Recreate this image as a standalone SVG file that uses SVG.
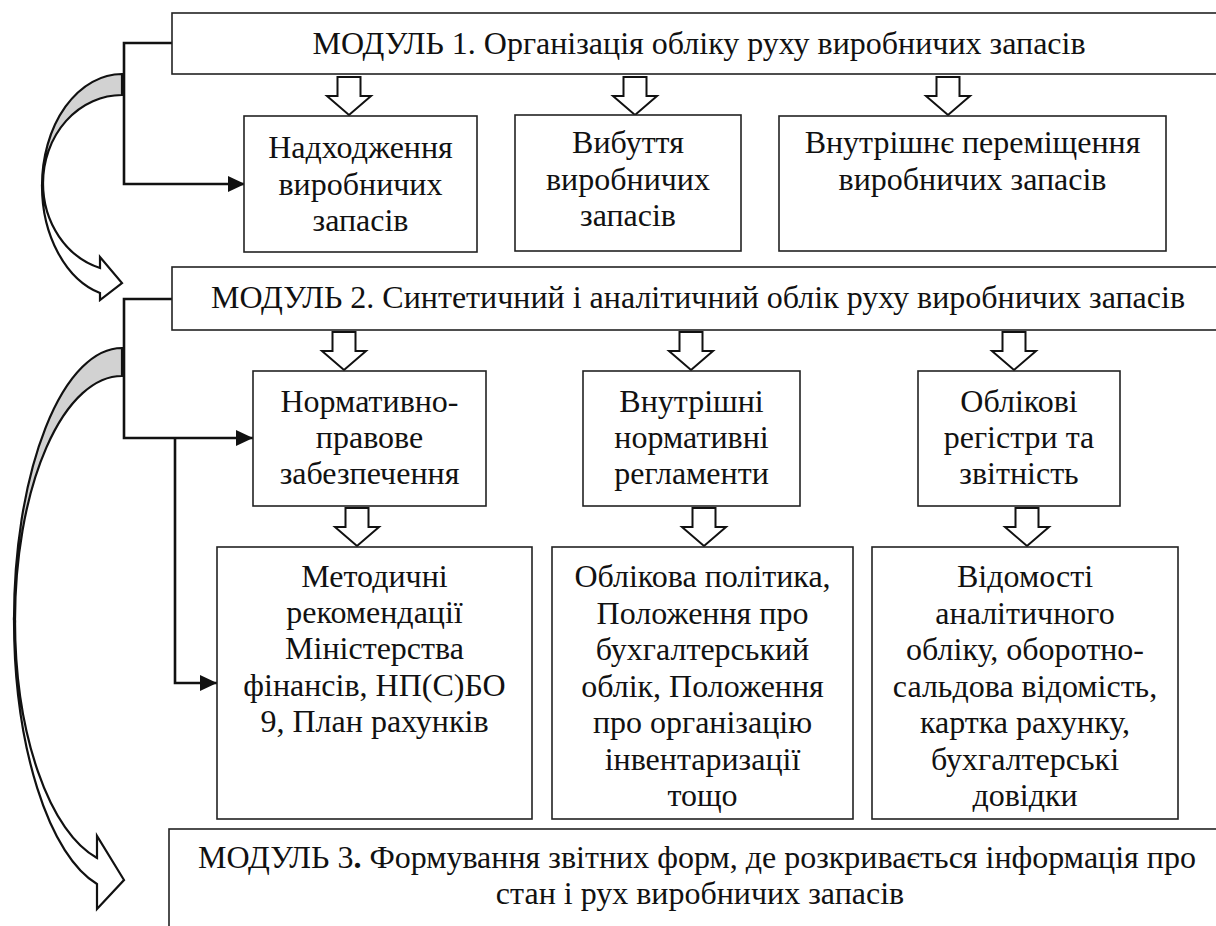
<svg xmlns="http://www.w3.org/2000/svg" width="1216" height="926" viewBox="0 0 1216 926">
<style>
.box{fill:#fff;stroke:#222;stroke-width:1.6}
text{font-family:'Liberation Serif','Times New Roman','DejaVu Serif',serif;font-size:32px;fill:#111;text-anchor:middle}
.conn{fill:none;stroke:#111;stroke-width:2.6}
.blk{fill:#fff;stroke:#111;stroke-width:2}
.curve{stroke:#111;stroke-width:2.2;stroke-linejoin:miter}
</style>
<defs>
<marker id="tri" markerUnits="userSpaceOnUse" markerWidth="17" markerHeight="16" refX="17" refY="8" orient="auto">
<path d="M0,0 L17,8 L0,16 Z" fill="#111"/>
</marker>
<path id="bigArrow" d="M-11.5,0 h23 v19 h10.5 L0,38 L-22,19 h10.5 Z"/>
</defs>
<rect width="1216" height="926" fill="#fff"/>

<g id="connectors">
<path class="conn" d="M172,43 H124 V184 H245" marker-end="url(#tri)"/>
<path class="conn" d="M172,299 H124 V438 H253" marker-end="url(#tri)"/>
<path class="conn" d="M175,438 V683 H217" marker-end="url(#tri)"/>
<g class="blk">
<use href="#bigArrow" x="349" y="77"/>
<use href="#bigArrow" x="635" y="77"/>
<use href="#bigArrow" x="948" y="77"/>
<use href="#bigArrow" x="344" y="332"/>
<use href="#bigArrow" x="691" y="332"/>
<use href="#bigArrow" x="1014" y="332"/>
<use href="#bigArrow" x="357" y="508"/>
<use href="#bigArrow" x="704" y="508"/>
<use href="#bigArrow" x="1027" y="508"/>
</g>
<g id="curved1" class="curve">
<path fill="#d2d2d2" d="M122,74 A80,111.7 0 0 0 42,185.7 L43,183.3 A79,88.25 0 0 1 122,95 Z"/>
<path fill="#fff" d="M42,185.7 A80,111.7 0 0 0 100,293.1 L100,300 L122,283 L100,257 L100,268 A79,88.25 0 0 1 43,183.3 Z"/>
</g>
<g id="curved2" class="curve">
<path fill="#d2d2d2" d="M122,348 A108,271.7 0 0 0 14,619.7 L15,620.4 A107,244.4 0 0 1 122,376 Z"/>
<path fill="#fff" d="M14,619.7 A108,271.7 0 0 0 97,884 L97,909 L124,880 L97,836 L97,858 A107,244.4 0 0 1 15,620.4 Z"/>
</g>
</g>

<g id="module1" font-family="Liberation Serif, serif">
<rect class="box" x="172" y="13" width="1060" height="61"/>
<text x="699" y="54">МОДУЛЬ 1. Організація обліку руху виробничих запасів</text>
</g>
<g id="n-nadkhodzhennia">
<rect class="box" x="244" y="116" width="233" height="136"/>
<text x="360.5" y="158">Надходження</text>
<text x="360.5" y="194.5">виробничих</text>
<text x="360.5" y="231">запасів</text>
</g>
<g id="n-vybuttia">
<rect class="box" x="515" y="115" width="226" height="136"/>
<text x="628" y="153">Вибуття</text>
<text x="628" y="189.5">виробничих</text>
<text x="628" y="226">запасів</text>
</g>
<g id="n-vnutr-peremishchennia">
<rect class="box" x="779" y="116" width="387" height="135"/>
<text x="972.5" y="153">Внутрішнє переміщення</text>
<text x="972.5" y="189.5">виробничих запасів</text>
</g>

<g id="module2">
<rect class="box" x="172" y="267" width="1060" height="63"/>
<text x="698" y="308">МОДУЛЬ 2. Синтетичний і аналітичний облік руху виробничих запасів</text>
</g>
<g id="n-normatyvno">
<rect class="box" x="253" y="371" width="233" height="135"/>
<text x="369.5" y="412">Нормативно-</text>
<text x="369.5" y="448">правове</text>
<text x="369.5" y="484">забезпечення</text>
</g>
<g id="n-vnutrishni">
<rect class="box" x="583" y="371" width="217" height="135"/>
<text x="691.5" y="412">Внутрішні</text>
<text x="691.5" y="448">нормативні</text>
<text x="691.5" y="484">регламенти</text>
</g>
<g id="n-oblikovi">
<rect class="box" x="918" y="371" width="202" height="135"/>
<text x="1019" y="412">Облікові</text>
<text x="1019" y="448">регістри та</text>
<text x="1019" y="484">звітність</text>
</g>

<g id="n-metodychni">
<rect class="box" x="217" y="547" width="315" height="272"/>
<text x="374.5" y="587">Методичні</text>
<text x="374.5" y="623">рекомендації</text>
<text x="374.5" y="659">Міністерства</text>
<text x="374.5" y="695.5">фінансів, НП(С)БО</text>
<text x="374.5" y="732">9, План рахунків</text>
</g>
<g id="n-oblikova-polityka">
<rect class="box" x="552" y="547" width="301" height="272"/>
<text x="702.5" y="587">Облікова політика,</text>
<text x="702.5" y="623.5">Положення про</text>
<text x="702.5" y="660">бухгалтерський</text>
<text x="702.5" y="696.5">облік, Положення</text>
<text x="702.5" y="733">про організацію</text>
<text x="702.5" y="769.5">інвентаризації</text>
<text x="702.5" y="806">тощо</text>
</g>
<g id="n-vidomosti">
<rect class="box" x="872" y="547" width="306" height="272"/>
<text x="1025" y="587">Відомості</text>
<text x="1025" y="623.5">аналітичного</text>
<text x="1025" y="660">обліку, оборотно-</text>
<text x="1025" y="696.5">сальдова відомість,</text>
<text x="1025" y="733">картка рахунку,</text>
<text x="1025" y="769.5">бухгалтерські</text>
<text x="1025" y="806">довідки</text>
</g>

<g id="module3">
<rect class="box" x="169" y="829" width="1060" height="120"/>
<text x="697" y="868">МОДУЛЬ 3<tspan font-weight="bold">.</tspan> Формування звітних форм, де розкривається інформація про</text>
<text x="700" y="904">стан і рух виробничих запасів</text>
</g>
</svg>
